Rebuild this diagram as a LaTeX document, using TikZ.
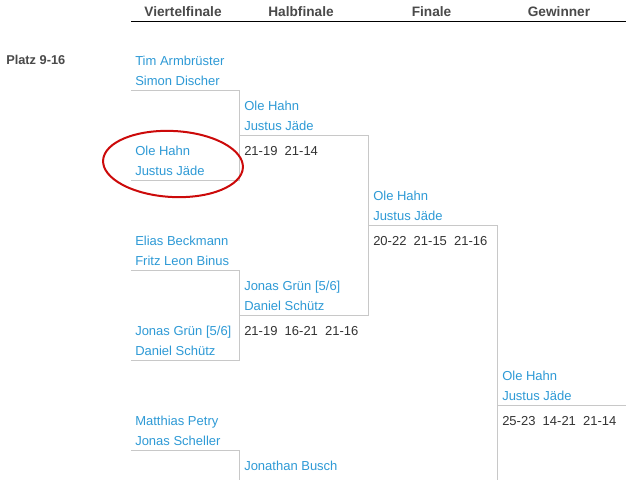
\documentclass[tikz,border=0pt]{standalone}
\usepackage{fontspec}
\setmainfont{Liberation Sans}
\definecolor{nameblue}{HTML}{2E9AD6}
\definecolor{scoregray}{HTML}{333333}
\definecolor{headgray}{HTML}{4A4A4A}
\definecolor{linegray}{HTML}{C8C8C8}
\definecolor{markred}{HTML}{CC0A0A}
\begin{document}
\begin{tikzpicture}[x=0.75pt,y=-0.75pt,
  player/.style={anchor=base west, inner sep=0pt, text=nameblue, font=\fontsize{9.75}{12}\selectfont},
  result/.style={anchor=base west, inner sep=0pt, text=scoregray, font=\fontsize{9.75}{12}\selectfont},
  head/.style={anchor=base, inner sep=0pt, text=headgray, font=\fontsize{10.25}{12}\selectfont\bfseries},
  bracket/.style={draw=linegray, line width=0.75pt}]
\useasboundingbox (0,0) rectangle (640,480);
\fill[white] (0,0) rectangle (640,480);

% headers
\node[head] (hqf) at (183,16.5) {Viertelfinale};
\node[head] (hsf) at (301,16.5) {Halbfinale};
\node[head] (hf)  at (431.5,16.5) {Finale};
\node[head] (hw)  at (559,16.5) {Gewinner};
\coordinate (ul) at (131,21.5);
\coordinate (ur) at (626,21.5);
\draw[black, line width=0.9pt] (ul) -- (ur);
\node[head, anchor=base west, font=\fontsize{9.6}{12}\selectfont\bfseries] (platz) at (6,64.5) {Platz 9-16};

% quarter finals
\node[player] (q1a) at (135,65) {Tim Armbrüster};
\node[player] (q1b) at (135,85) {Simon Discher};
\node[player] (q2a) at (135,155) {Ole Hahn};
\node[player] (q2b) at (135,175) {Justus Jäde};
\node[player] (q3a) at (135,245) {Elias Beckmann};
\node[player] (q3b) at (135,265) {Fritz Leon Binus};
\node[player] (q4a) at (135,335) {Jonas Grün [5/6]};
\node[player] (q4b) at (135,355) {Daniel Schütz};
\node[player] (q5a) at (135,425) {Matthias Petry};
\node[player] (q5b) at (135,445) {Jonas Scheller};

% semi finals
\node[player] (s1a) at (244,110) {Ole Hahn};
\node[player] (s1b) at (244,130) {Justus Jäde};
\node[result] (s1r) at (244,155) {21-19~~21-14};
\node[player] (s2a) at (244,290) {Jonas Grün [5/6]};
\node[player] (s2b) at (244,310) {Daniel Schütz};
\node[result] (s2r) at (244,335) {21-19~~16-21~~21-16};
\node[player] (s3a) at (244,470) {Jonathan Busch};

% final
\node[player] (f1a) at (373,200) {Ole Hahn};
\node[player] (f1b) at (373,220) {Justus Jäde};
\node[result] (f1r) at (373,245) {20-22~~21-15~~21-16};

% winner
\node[player] (w1a) at (502,380) {Ole Hahn};
\node[player] (w1b) at (502,400) {Justus Jäde};
\node[result] (w1r) at (502,425) {25-23~~14-21~~21-14};

% bracket lines
\draw[bracket] (131,90) -- (239,90) -- (239,180) -- (131,180);
\draw[bracket] (239,135) -- (368,135) -- (368,315) -- (239,315);
\draw[bracket] (131,270) -- (239,270) -- (239,360) -- (131,360);
\draw[bracket] (368,225) -- (497,225) -- (497,480);
\draw[bracket] (497,405) -- (626,405);
\draw[bracket] (131,450) -- (239,450) -- (239,480);

% red mark
\coordinate (mark) at (173,164);
\draw[markred, line width=1.5pt, rotate around={-3:(mark)}] (mark) ellipse [x radius=52.5pt, y radius=24.75pt];
\end{tikzpicture}
\end{document}
